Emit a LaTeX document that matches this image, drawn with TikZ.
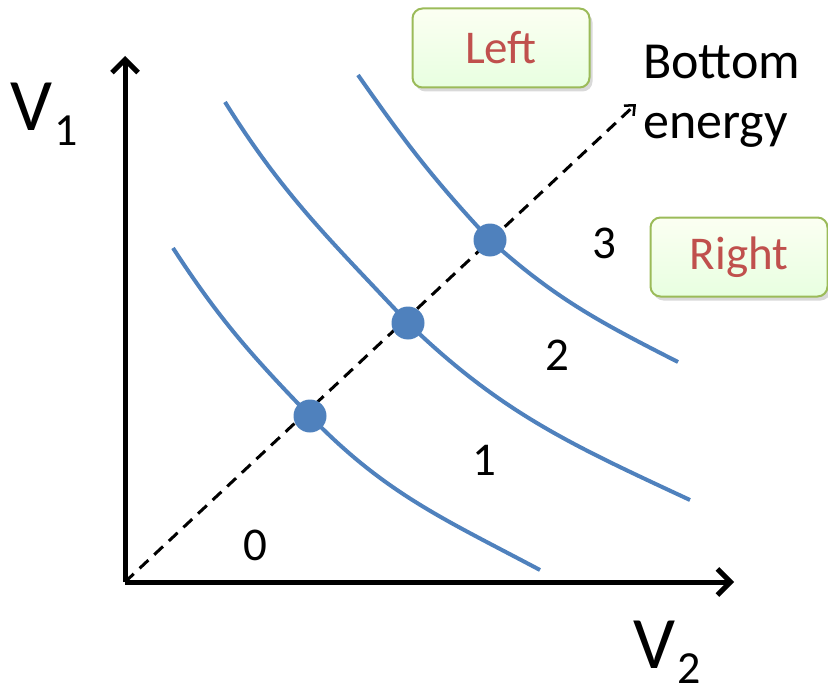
\documentclass[tikz,border=0pt]{standalone}
\usepackage{fontspec}
\setmainfont{Carlito}
\usetikzlibrary{arrows.meta, positioning, shadows}

\definecolor{curveblue}{HTML}{4F81BD}
\definecolor{boxred}{HTML}{C0504D}
\definecolor{boxgreen}{HTML}{9BBB59}

\newcommand{\axislabel}[1]{\fontsize{74}{80}\selectfont V\hspace{2pt}\raisebox{-15pt}{\fontsize{46}{50}\selectfont #1}}

\begin{document}
\begin{tikzpicture}[x=1pt, y=-1pt,
    axis/.style={line width=5pt, -{Straight Barb[length=13pt, width=26pt, line width=5pt]}},
    level/.style={curveblue, line width=4pt},
    dot/.style={circle, fill=curveblue, inner sep=0pt, minimum size=33pt},
    tag/.style={draw=boxgreen, line width=2pt, rounded corners=10pt, top color=green!3!lime!5, bottom color=lime!32!green!12,
      text=boxred, minimum width=177pt, minimum height=79pt, font=\fontsize{47}{52}\selectfont,
      drop shadow={shadow xshift=3pt, shadow yshift=-4pt, opacity=0.3}},
    num/.style={font=\fontsize{47}{52}\selectfont}]
  \useasboundingbox (0,0) rectangle (828,693);

  % Axes
  \coordinate (o) at (125,582);
  \coordinate (v1end) at (125,56);
  \coordinate (v2end) at (734,582);
  \draw [axis] (o) -- (v1end);
  \draw [axis] (o) -- (v2end);
  \node [anchor=base west, inner sep=0pt] (v1) at (10,130) {\axislabel{1}};
  \node [anchor=base west, inner sep=0pt] (v2) at (633,668) {\axislabel{2}};

  % Bottom energy direction
  \coordinate (be) at (636,104);
  \draw [line width=3pt, dash pattern=on 12pt off 8pt, -{Straight Barb[length=8pt, width=14pt, line width=2.5pt]}] (o) -- (be);
  \node [anchor=base west, inner sep=0pt, align=left, font=\fontsize{52}{61}\selectfont] (bottom) at (643,139) {Bottom\\energy};

  % Level curves
  \coordinate (c0) at (310,416);
  \coordinate (c1) at (408,323);
  \coordinate (c2) at (490,240);
  \draw [level] (173,248) to [out=-57, in=134] (c0) to [out=-46, in=152] (540,570);
  \draw [level] (225,102) to [out=-58, in=133] (c1) to [out=-44, in=155] (690,500);
  \draw [level] (358,75) to [out=-55, in=133] (c2) to [out=-42, in=153] (678,362);
  \node [dot] (p0) at (c0) {};
  \node [dot] (p1) at (c1) {};
  \node [dot] (p2) at (c2) {};

  % Level numbers
  \node [num] (n0) at (255,545) {0};
  \node [num] (n1) at (484,460) {1};
  \node [num] (n2) at (557,355) {2};
  \node [num] (n3) at (604,243) {3};

  % Tags
  \node [tag] (left) at (501,48) {Left};
  \node [tag] (right) at (739,257) {Right};
\end{tikzpicture}
\end{document}
